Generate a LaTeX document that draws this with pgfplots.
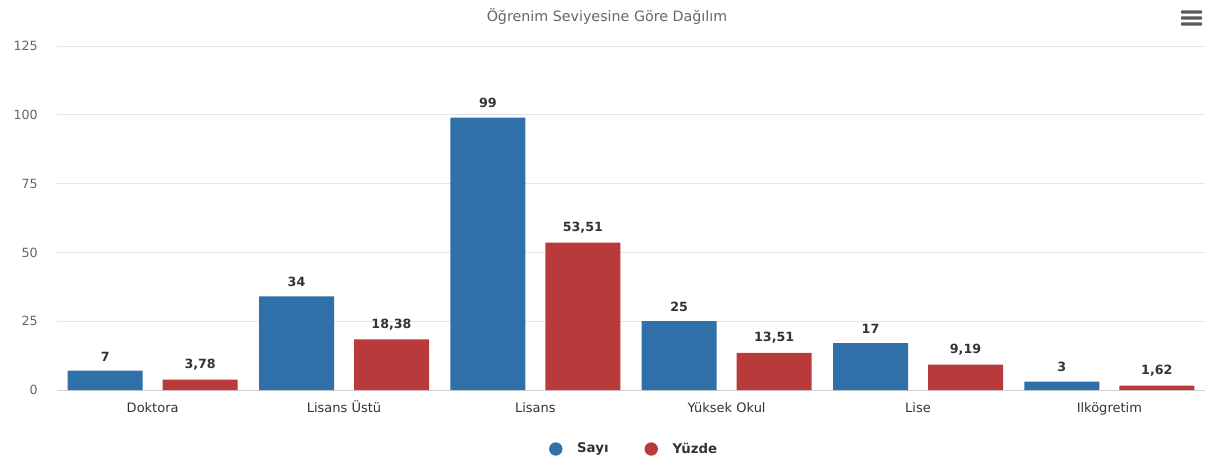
\documentclass[border=0pt]{standalone}
\usepackage{fontspec}
\setmainfont{DejaVu Sans}
\usepackage{pgfplots}
\pgfplotsset{compat=1.18}
\definecolor{sayi}{RGB}{46,112,167}
\definecolor{yuzde}{RGB}{185,58,58}
\definecolor{txt}{RGB}{51,51,51}
\definecolor{tickc}{RGB}{102,102,102}
\definecolor{gridc}{RGB}{230,230,230}
\definecolor{basec}{RGB}{210,210,210}
\begin{document}
\begin{tikzpicture}[x=0.75pt,y=0.75pt]
\path[use as bounding box] (0,0) rectangle (1210,465);
\node[font=\fontsize{10.7}{12}\selectfont, text=tickc] at (607,449) {Öğrenim Seviyesine Göre Dağılım};
% menu icon
\foreach \yy in {453,447,441}
  \fill[rounded corners=0.5pt, black!65] (1181,\yy-1.6) rectangle (1202,\yy+1.6);
\begin{axis}[
    at={(42.75pt,56.25pt)}, anchor=south west,
    scale only axis, width=861pt, height=258pt,
    /pgf/number format/assume math mode=true,
    ybar=15pt, bar width=56.25pt,
    xmin=-0.5, xmax=5.5, ymin=0, ymax=125,
    xtick={0,...,5},
    xticklabels={Doktora, Lisans Üstü, Lisans, Yüksek Okul, Lise, Ilkögretim},
    ytick={0,25,...,125},
    major tick length=0pt,
    ymajorgrids, grid style={gridc, line width=0.75pt},
    axis x line*=bottom, axis y line*=left,
    x axis line style={basec, line width=0.75pt, -},
    y axis line style={draw=none},
    xticklabel style={font=\fontsize{9.75}{11}\selectfont, text=txt, anchor=base, inner sep=0pt, yshift=-17pt},
    yticklabel style={font=\fontsize{9.5}{11}\selectfont, text=tickc, anchor=east, inner sep=0pt, xshift=-14.25pt},
    nodes near coords={\pgfmathprintnumber[fixed,precision=2,use comma]{\pgfplotspointmeta}},
    nodes near coords style={font=\bfseries\fontsize{9.5}{11}\selectfont, text=txt, anchor=south, inner sep=0pt, yshift=7pt},
    legend columns=2,
    legend style={at={(0.503,-0.1715)}, anchor=center, draw=none, fill=none,
        font=\bfseries\fontsize{10}{11}\selectfont, text=txt,
        /tikz/every even column/.append style={column sep=25pt}},
  ]
  \addplot[fill=sayi, draw=none,
    legend image code/.code={\fill[sayi] (0pt,0pt) circle (5pt); \path (14pt,0pt);}]
    coordinates {(0,7) (1,34) (2,99) (3,25) (4,17) (5,3)};
  \addplot[fill=yuzde, draw=none,
    legend image code/.code={\fill[yuzde] (0pt,0pt) circle (5pt); \path (14pt,0pt);}]
    coordinates {(0,3.78) (1,18.38) (2,53.51) (3,13.51) (4,9.19) (5,1.62)};
  \legend{Sayı, Yüzde}
\end{axis}
\end{tikzpicture}
\end{document}
